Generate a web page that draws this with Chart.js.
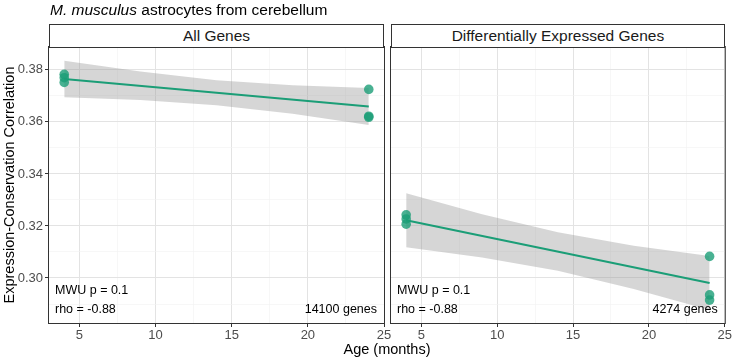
<!DOCTYPE html>
<html>
<head>
<meta charset="utf-8">
<script src="https://cdn.jsdelivr.net/npm/chart.js@4/dist/chart.umd.min.js"></script>
<style>
  html, body { margin: 0; padding: 0; background: #ffffff; }
  #wrap { position: relative; width: 733px; height: 359px; overflow: hidden; font-family: "Liberation Sans", Arial, Helvetica, sans-serif; }
  canvas { position: absolute; left: 0; top: 0; }
  .txt { position: absolute; white-space: nowrap; color: #000; }
  .strip { position: absolute; box-sizing: border-box; border: 1px solid #333; background: #fff; color: #1a1a1a; font-size: 15.5px; text-align: center; }
</style>
</head>
<body>
<div id="wrap">
  <canvas id="c0" width="733" height="359"></canvas>
  <canvas id="c1" width="733" height="359"></canvas>
</div>
<script>
// ---------- data ----------
const panelTitles = ['All Genes', 'Differentially Expressed Genes'];
const mwuLabels = ['MWU p = 0.1', 'MWU p = 0.1'];
const rhoLabels = ['rho = -0.88', 'rho = -0.88'];
const geneCounts = ['14100 genes', '4274 genes'];

const ages = [4, 4, 4, 24, 24, 24];
const allGenesCorr = [0.3783, 0.3770, 0.3752, 0.3725, 0.3622, 0.3618];
const degCorr = [0.3243, 0.3227, 0.3207, 0.3083, 0.2935, 0.2915];

const fitAges = [4, 24];
const allGenesFit = [0.3765, 0.3659];
const degFit = [0.3222, 0.2981];

const bandAges = [4, 9, 14, 19, 24];
const allGenesUpper = [0.3835, 0.3794, 0.3760, 0.3741, 0.3730];
const allGenesLower = [0.3695, 0.3684, 0.3664, 0.3631, 0.3588];
const degUpper = [0.3326, 0.3245, 0.3176, 0.3124, 0.3085];
const degLower = [0.3118, 0.3079, 0.3028, 0.2958, 0.2877];

const xTicks = [5, 7.5, 10, 12.5, 15, 17.5, 20, 22.5, 25];
const xLabeled = [5, 10, 15, 20, 25];
const yTicks = [0.29, 0.30, 0.31, 0.32, 0.33, 0.34, 0.35, 0.36, 0.37, 0.38];
const yLabeled = ['0.30', '0.32', '0.34', '0.36', '0.38'];

// ---------- helpers ----------
const FONT = '"Liberation Sans", Arial, Helvetica, sans-serif';
const pts = (xs, ys) => xs.map((x, i) => ({ x: x, y: ys[i] }));
const isMajorX = v => xLabeled.some(t => Math.abs(t - v) < 1e-6);
const isMajorY = v => yLabeled.includes(Number(v).toFixed(2));

const panelBorder = {
  id: 'panelBorder',
  afterDraw(chart) {
    const a = chart.chartArea, c = chart.ctx;
    c.save();
    c.strokeStyle = '#333333';
    c.lineWidth = 1;
    c.strokeRect(a.left - 0.5, a.top - 0.5, a.right - a.left + 1, a.bottom - a.top + 1);
    c.restore();
  }
};

function makeChart(id, idx, corr, fit, upper, lower) {
  const left = idx === 0;
  const gridColorX = ctx => (ctx.tick && isMajorX(ctx.tick.value)) ? '#e3e3e3' : '#f1f1f1';
  const gridColorY = ctx => (ctx.tick && isMajorY(ctx.tick.value)) ? '#e3e3e3' : '#f1f1f1';
  return new Chart(document.getElementById(id), {
    type: 'line',
    data: {
      datasets: [
        { data: pts(ages, corr), showLine: false, pointRadius: 4.8, pointBorderWidth: 0,
          pointBackgroundColor: 'rgba(27,158,119,0.8)', order: 0 },
        { data: pts(fitAges, fit), borderColor: '#1b9e77', borderWidth: 2, pointRadius: 0, fill: false, order: 1 },
        { data: pts(bandAges, upper), borderWidth: 0, borderColor: 'rgba(0,0,0,0)', pointRadius: 0,
          fill: '+1', backgroundColor: 'rgba(153,153,153,0.4)', order: 2 },
        { data: pts(bandAges, lower), borderWidth: 0, borderColor: 'rgba(0,0,0,0)', pointRadius: 0, fill: false, order: 3 }
      ]
    },
    options: {
      responsive: false,
      animation: false,
      devicePixelRatio: 1,
      layout: { padding: left ? { top: 47, right: 349, bottom: 0, left: 0 } : { top: 47, right: 7, bottom: 0, left: 0 } },
      plugins: { legend: { display: false }, tooltip: { enabled: false }, title: { display: false } },
      scales: {
        x: {
          type: 'linear', min: 3, max: 25,
          afterBuildTicks: s => { s.ticks = xTicks.map(v => ({ value: v })); },
          afterFit: s => { s.height = 36; },
          ticks: {
            autoSkip: false, maxRotation: 0, padding: 1, color: '#4d4d4d',
            font: { family: FONT, size: 13 },
            callback: v => isMajorX(v) ? String(v) : ''
          },
          grid: {
            color: gridColorX,
            lineWidth: ctx => (ctx.tick && isMajorX(ctx.tick.value)) ? 1 : 0.6,
            drawTicks: true, tickLength: 4,
            tickColor: ctx => (ctx.tick && isMajorX(ctx.tick.value)) ? '#333333' : 'rgba(0,0,0,0)',
            tickWidth: 1
          },
          border: { display: false }
        },
        y: {
          type: 'linear', min: 0.2827, max: 0.3888,
          afterBuildTicks: s => { s.ticks = yTicks.map(v => ({ value: v })); },
          afterFit: s => { s.width = left ? 49 : 391; },
          ticks: {
            display: left, autoSkip: false, padding: 2, color: '#4d4d4d',
            font: { family: FONT, size: 13 },
            callback: v => isMajorY(v) ? Number(v).toFixed(2) : ''
          },
          grid: {
            color: gridColorY,
            lineWidth: ctx => (ctx.tick && isMajorY(ctx.tick.value)) ? 1 : 0.6,
            drawTicks: left, tickLength: 4,
            tickColor: ctx => (ctx.tick && isMajorY(ctx.tick.value)) ? '#333333' : 'rgba(0,0,0,0)',
            tickWidth: 1
          },
          border: { display: false },
          title: left ? { display: true, text: 'Expression-Conservation Correlation', color: '#000',
                          font: { family: FONT, size: 14.5 }, padding: { top: 1, bottom: 0 } } : { display: false }
        }
      }
    },
    plugins: [panelBorder]
  });
}

const charts = [
  makeChart('c0', 0, allGenesCorr, allGenesFit, allGenesUpper, allGenesLower),
  makeChart('c1', 1, degCorr, degFit, degUpper, degLower)
];

// ---------- text elements (positioned from chart areas) ----------
const wrap = document.getElementById('wrap');
function addDiv(cls, text, style) {
  const d = document.createElement('div');
  d.className = cls;
  d.textContent = text;
  Object.assign(d.style, style);
  wrap.appendChild(d);
  return d;
}

const title = document.createElement('div');
title.className = 'txt';
Object.assign(title.style, { left: '50px', top: '2px', fontSize: '15.5px', lineHeight: '16px' });
const it = document.createElement('i'); it.textContent = 'M. musculus';
title.appendChild(it);
title.appendChild(document.createTextNode(' astrocytes from cerebellum'));
wrap.appendChild(title);

charts.forEach((ch, i) => {
  const a = ch.chartArea;
  addDiv('strip', panelTitles[i], {
    left: (a.left) + 'px', top: '24px', width: (a.right - a.left) + 'px', height: '24px', lineHeight: '22px'
  });
  addDiv('txt', mwuLabels[i], { left: (a.left + 6) + 'px', top: '283px', fontSize: '12.5px', lineHeight: '15px' });
  addDiv('txt', rhoLabels[i], { left: (a.left + 6) + 'px', top: '302px', fontSize: '12.5px', lineHeight: '15px' });
  addDiv('txt', geneCounts[i], { right: (733 - a.right + 7) + 'px', top: '302px', fontSize: '12.5px', lineHeight: '15px' });
});

addDiv('txt', 'Age (months)', { left: '0px', width: '774px', textAlign: 'center', top: '341px', fontSize: '14.5px', lineHeight: '16px' });
</script>
</body>
</html>
